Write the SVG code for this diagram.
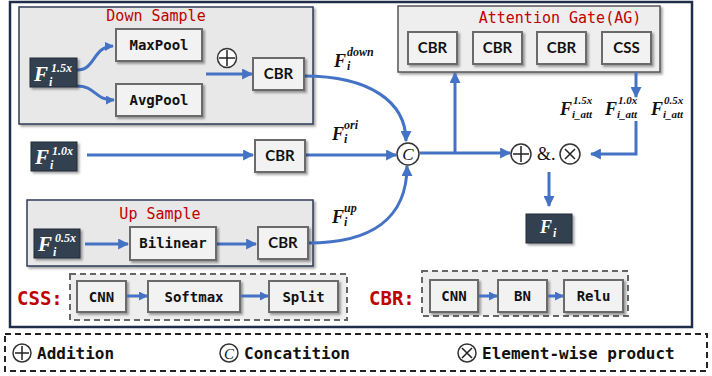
<svg xmlns="http://www.w3.org/2000/svg" width="712" height="376" viewBox="0 0 712 376">
<defs>
<filter id="sh" x="-20%" y="-20%" width="150%" height="160%"><feDropShadow dx="2" dy="2" stdDeviation="1.2" flood-color="#000" flood-opacity="0.35"/></filter>
<marker id="ah" viewBox="0 0 10 10" refX="9" refY="5" markerWidth="11" markerHeight="11" markerUnits="userSpaceOnUse" orient="auto"><path d="M0,0 L10,5 L0,10 z" fill="#4472c4"/></marker>
<marker id="ahs" viewBox="0 0 10 10" refX="9" refY="5" markerWidth="9" markerHeight="9" markerUnits="userSpaceOnUse" orient="auto"><path d="M0,0 L10,5 L0,10 z" fill="#4472c4"/></marker>
</defs>
<style>
.box{fill:#f2f2f2;stroke:#6b6b6b;stroke-width:2;filter:url(#sh)}
.dark{fill:#333f50;stroke:#222b38;stroke-width:1;filter:url(#sh)}
.grp{fill:#e8e8e8;stroke:#2f3b55;stroke-width:1.5;filter:url(#sh)}
.mono{font-family:"DejaVu Sans Mono","Liberation Mono",monospace;font-weight:bold;font-size:14px;fill:#111;text-anchor:middle}
.sans{font-family:Lato,"Liberation Sans",sans-serif;font-weight:bold;font-size:15px;fill:#111;text-anchor:middle}
.title{font-family:"DejaVu Sans Mono","Liberation Mono",monospace;font-size:15px;fill:#c00000;text-anchor:middle}
.red{font-family:"DejaVu Sans Mono","Liberation Mono",monospace;font-weight:bold;font-size:19px;fill:#c00000}
.m{font-family:"Liberation Serif","DejaVu Serif",serif;font-weight:bold;font-style:italic;fill:#111}
.mw{font-family:"Liberation Serif","DejaVu Serif",serif;font-weight:bold;font-style:italic;fill:#fff}
.edge{fill:none;stroke:#4472c4;stroke-width:3}
.op{fill:#fff;stroke:#333;stroke-width:1.5}
.opl{stroke:#222;stroke-width:1.5}
.dash{fill:#eeeeee;stroke:#666;stroke-width:2;stroke-dasharray:6 4}
.leg{font-family:"DejaVu Sans Mono","Liberation Mono",monospace;font-weight:bold;font-size:16px;fill:#111}
</style>
<rect x="0" y="0" width="712" height="376" fill="#fff"/>
<rect id="frame" x="10" y="2" width="682" height="325" fill="#fff" stroke="#1f2d4a" stroke-width="2.5"/>

<g id="down-sample"><rect class="grp" x="19" y="7" width="294" height="117"/><text class="title" x="156" y="21">Down Sample</text></g>
<g id="attention-gate"><rect class="grp" x="398" y="6" width="262" height="66" style="fill:#eeeeee;stroke:#555"/><text class="title" x="560" y="23">Attention Gate(AG)</text></g>
<g id="up-sample"><rect class="grp" x="27" y="200" width="286" height="66"/><text class="title" x="160" y="219">Up Sample</text></g>

<g id="css-legend"><text class="red" x="17" y="305">CSS:</text><rect class="dash" x="70" y="274" width="277" height="46"/>
<rect class="box" x="77" y="281" width="49" height="31"/><text class="mono" x="101.5" y="301.5">CNN</text>
<rect class="box" x="148" y="281" width="92" height="31"/><text class="mono" x="194" y="301.5">Softmax</text>
<rect class="box" x="269" y="281" width="69" height="31"/><text class="mono" x="303.5" y="301.5">Split</text></g>
<g id="cbr-legend"><text class="red" x="369" y="305">CBR:</text><rect class="dash" x="422" y="271" width="206" height="45"/>
<rect class="box" x="430" y="280" width="48" height="32"/><text class="mono" x="454" y="301">CNN</text>
<rect class="box" x="498" y="280" width="49" height="32"/><text class="mono" x="522.5" y="301">BN</text>
<rect class="box" x="564" y="280" width="59" height="32"/><text class="mono" x="593.5" y="301">Relu</text></g>

<g id="connectors">
<path class="edge" d="M77,70 C96,70 92,47 113,46" marker-end="url(#ahs)"/>
<path class="edge" d="M77,86 C96,86 94,100 114,100" marker-end="url(#ahs)"/>
<path class="edge" d="M206,74 L252,74" marker-end="url(#ah)"/>
<path class="edge" d="M304,76 C370,76 406,102 406,141" marker-end="url(#ah)"/>
<path class="edge" d="M87,155 L253,155" marker-end="url(#ah)"/>
<path class="edge" d="M305,155 L396,155" marker-end="url(#ah)"/>
<path class="edge" d="M308,243 C372,243 407,218 407,166" marker-end="url(#ah)"/>
<path class="edge" d="M420,153 L510,153" marker-end="url(#ah)"/>
<path class="edge" d="M455,153 L455,73" marker-end="url(#ah)"/>
<path class="edge" d="M636,72 L636,97" marker-end="url(#ah)"/>
<path class="edge" d="M636,121 L636,154 L591,154" marker-end="url(#ah)"/>
<path class="edge" d="M549,172 L549,206" marker-end="url(#ah)"/>
<path class="edge" d="M85,244 L128,244" marker-end="url(#ah)"/>
<path class="edge" d="M217,244 L256,244" marker-end="url(#ah)"/>
<path class="edge" d="M127,296 L147,296" marker-end="url(#ahs)"/>
<path class="edge" d="M241,296 L268,296" marker-end="url(#ahs)"/>
<path class="edge" d="M479,296 L497,296" marker-end="url(#ahs)"/>
<path class="edge" d="M548,296 L563,296" marker-end="url(#ahs)"/>
</g>

<g id="f15"><rect class="dark" x="30" y="58" width="47" height="29"/><text class="mw" x="34" y="81" font-size="21">F</text><text class="mw" x="51" y="72" font-size="12">1.5x</text><text class="mw" x="49" y="86" font-size="12">i</text></g>
<g id="maxpool"><rect class="box" x="116" y="29" width="86" height="32"/><text class="mono" x="159" y="50">MaxPool</text></g>
<g id="avgpool"><rect class="box" x="116" y="84" width="86" height="32"/><text class="mono" x="159" y="105">AvgPool</text></g>
<g id="add-down"><circle class="op" cx="227" cy="58" r="9.5"/><path class="opl" d="M219,58 H235 M227,50 V66"/></g>
<g id="cbr-down"><rect class="box" x="253" y="58" width="51" height="32"/><text class="sans" x="278.5" y="79">CBR</text></g>

<g id="f10"><rect class="dark" x="31" y="142" width="46" height="29"/><text class="mw" x="35" y="164" font-size="21">F</text><text class="mw" x="52" y="155" font-size="12">1.0x</text><text class="mw" x="50" y="169" font-size="12">i</text></g>
<g id="cbr-ori"><rect class="box" x="255" y="140" width="50" height="32"/><text class="sans" x="280" y="161">CBR</text></g>

<g id="f05"><rect class="dark" x="34" y="229" width="46" height="29"/><text class="mw" x="38" y="251" font-size="21">F</text><text class="mw" x="55" y="242" font-size="12">0.5x</text><text class="mw" x="53" y="256" font-size="12">i</text></g>
<g id="bilinear"><rect class="box" x="130" y="227" width="86" height="33"/><text class="mono" x="173" y="248">Bilinear</text></g>
<g id="cbr-up"><rect class="box" x="258" y="227" width="50" height="32"/><text class="sans" x="283" y="248">CBR</text></g>

<g id="concat"><circle class="op" cx="408" cy="154" r="11"/><text x="408" y="160" font-family="Liberation Serif,serif" font-style="italic" font-size="17" fill="#111" text-anchor="middle">C</text></g>

<g id="ag-cbr1"><rect class="box" x="408" y="32" width="49" height="32"/><text class="sans" x="432.5" y="53">CBR</text></g>
<g id="ag-cbr2"><rect class="box" x="473" y="32" width="49" height="32"/><text class="sans" x="497.5" y="53">CBR</text></g>
<g id="ag-cbr3"><rect class="box" x="537" y="32" width="49" height="32"/><text class="sans" x="561.5" y="53">CBR</text></g>
<g id="ag-css"><rect class="box" x="602" y="32" width="49" height="32"/><text class="sans" x="626.5" y="53">CSS</text></g>

<g id="label-down"><text class="m" x="334" y="67" font-size="18">F</text><text class="m" x="347" y="56" font-size="12">down</text><text class="m" x="347" y="70" font-size="12">i</text></g>
<g id="label-ori"><text class="m" x="332" y="140" font-size="18">F</text><text class="m" x="344" y="129" font-size="12">ori</text><text class="m" x="344" y="143" font-size="12">i</text></g>
<g id="label-up"><text class="m" x="332" y="223" font-size="18">F</text><text class="m" x="344" y="212" font-size="12">up</text><text class="m" x="344" y="226" font-size="12">i</text></g>
<g id="label-att">
<text class="m" x="560" y="115" font-size="18">F</text><text class="m" x="573" y="104" font-size="11">1.5x</text><text class="m" x="572" y="117.5" font-size="11">i_att</text>
<text class="m" x="605" y="115" font-size="18">F</text><text class="m" x="618" y="104" font-size="11">1.0x</text><text class="m" x="617" y="117.5" font-size="11">i_att</text>
<text class="m" x="651" y="115" font-size="18">F</text><text class="m" x="664" y="104" font-size="11">0.5x</text><text class="m" x="663" y="117.5" font-size="11">i_att</text>
</g>

<g id="fuse"><circle class="op" cx="521" cy="154" r="10"/><path class="opl" d="M513,154 H529 M521,146 V162"/><text x="537" y="160" font-family="Liberation Serif,serif" font-size="18" fill="#111">&amp;.</text><circle class="op" cx="570" cy="154" r="10"/><path class="opl" d="M565,149 L575,159 M575,149 L565,159"/></g>
<g id="fi"><rect class="dark" x="526" y="214" width="46" height="29"/><text class="mw" x="540" y="233" font-size="18">F</text><text class="mw" x="553" y="237" font-size="12">i</text></g>

<g id="legend"><rect x="5" y="334" width="702" height="37" fill="#fff" stroke="#222" stroke-width="2" stroke-dasharray="6 4"/>
<circle class="op" cx="22" cy="353" r="9"/><path class="opl" d="M15,353 H29 M22,346 V360"/><text class="leg" x="37" y="359">Addition</text>
<circle class="op" cx="229" cy="353" r="9"/><text x="229" y="359" font-family="Liberation Serif,serif" font-style="italic" font-size="15" fill="#111" text-anchor="middle">C</text><text class="leg" x="244" y="359">Concatition</text>
<circle class="op" cx="467" cy="353" r="9"/><path class="opl" d="M462,348 L472,358 M472,348 L462,358"/><text class="leg" x="482" y="359">Element-wise product</text></g>
</svg>
